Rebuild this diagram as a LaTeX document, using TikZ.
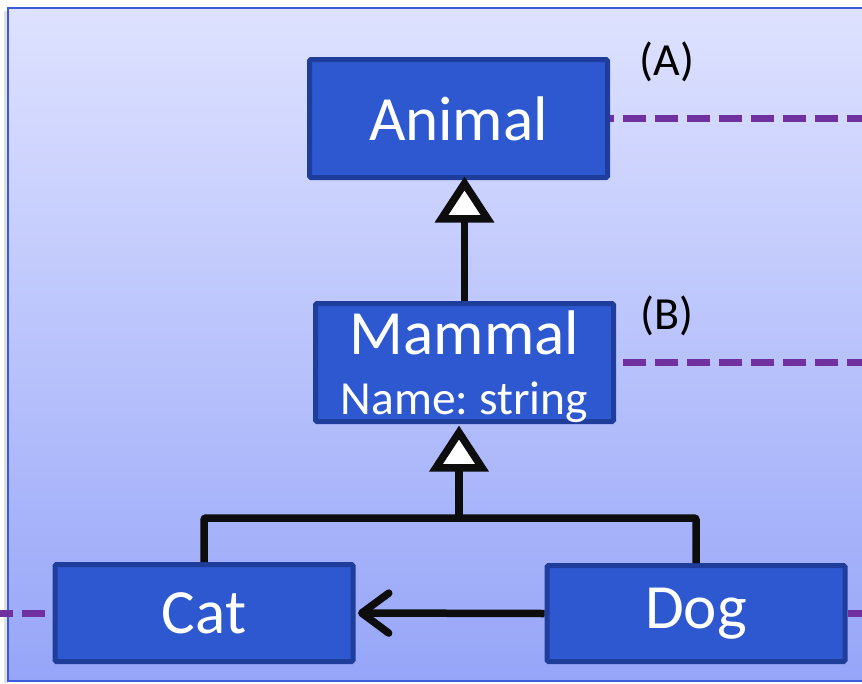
\documentclass[tikz,border=0pt]{standalone}
\usepackage{fontspec}
\setmainfont{Carlito}
\frenchspacing
\usetikzlibrary{arrows.meta, backgrounds}

\definecolor{boxfill}{HTML}{2D58D0}
\definecolor{boxline}{HTML}{1F3E9C}
\definecolor{linkpurple}{HTML}{7030A0}
\definecolor{bgtop}{HTML}{DEE2FF}
\definecolor{bgbottom}{HTML}{96A5F8}
\definecolor{framecol}{HTML}{3A5CDA}

\tikzset{
    classbox/.style={draw=boxline, fill=boxfill, line width=5pt, text=white,
        rounded corners=1.5pt, inner sep=0pt, minimum width=298pt,
        align=center, font=\fontsize{63}{60}\selectfont},
    inherit/.style={draw=black!95, line width=7.5pt,
        -{Triangle[open, fill=white, length=46pt, width=58pt]}},
    assoc/.style={draw=black!95, line width=7.5pt,
        -{Straight Barb[length=27pt, width=40pt, round]}},
    wire/.style={draw=black!95, line width=7.5pt, rounded corners=2pt},
    link/.style={draw=linkpurple, line width=7pt, dash pattern=on 23pt off 9pt},
    tag/.style={font=\fontsize{46}{48}\selectfont, inner sep=0pt}
}

\begin{document}
\begin{tikzpicture}[x=1pt, y=-1pt]
    \path[use as bounding box, clip] (0,0) rectangle (862,683);

    % Background panel
    \begin{scope}[on background layer]
        \fill[black!12] (4,11) rectangle (8,683);
        \shade[top color=bgtop, bottom color=bgbottom] (8,8) rectangle (880,681);
        \draw[framecol, line width=2pt] (8,8) rectangle (880,681);
    \end{scope}

    % Outer ends of the dashed links
    \coordinate (farA) at (870,118.5);
    \coordinate (farB) at (870,362.5);
    \coordinate (farC) at (-10,613);
    \coordinate (farD) at (870,613.5);

    % Classes
    \node[classbox, minimum height=118pt] (animal) at (458.5,118.5) {Animal};
    \node[classbox, minimum height=118pt, text depth=0pt] (mammal) at (464.5,362.5)
        {Mammal\\{\fontsize{47.5}{40}\selectfont Name: string}};
    \node[classbox, minimum height=97pt] (cat) at (204,613) {Cat};
    \node[classbox, minimum height=96pt] (dog) at (696,613.5) {Dog};

    % Dashed links, behind the boxes
    \begin{scope}[on background layer]
        \foreach \cls/\far in {animal/farA, mammal/farB, cat/farC, dog/farD} {
            \draw[link] (\far) -- (\cls);
        }
    \end{scope}

    % Labels
    \node[tag] (labA) at (667,62) {(A)};
    \node[tag] (labB) at (667,316) {(B)};

    % Inheritance
    \coordinate (join) at (459,518);
    \draw[inherit, shorten >=-3.5pt] (mammal.north) -- (mammal.north |- animal.south);
    \draw[wire] (cat.north) |- (join) -| (dog.north);
    \draw[inherit, shorten >=1.5pt] (join) -- (join |- mammal.south);

    % Association
    \draw[assoc, shorten >=2.5pt] (dog.west) -- (cat.east);
\end{tikzpicture}
\end{document}
